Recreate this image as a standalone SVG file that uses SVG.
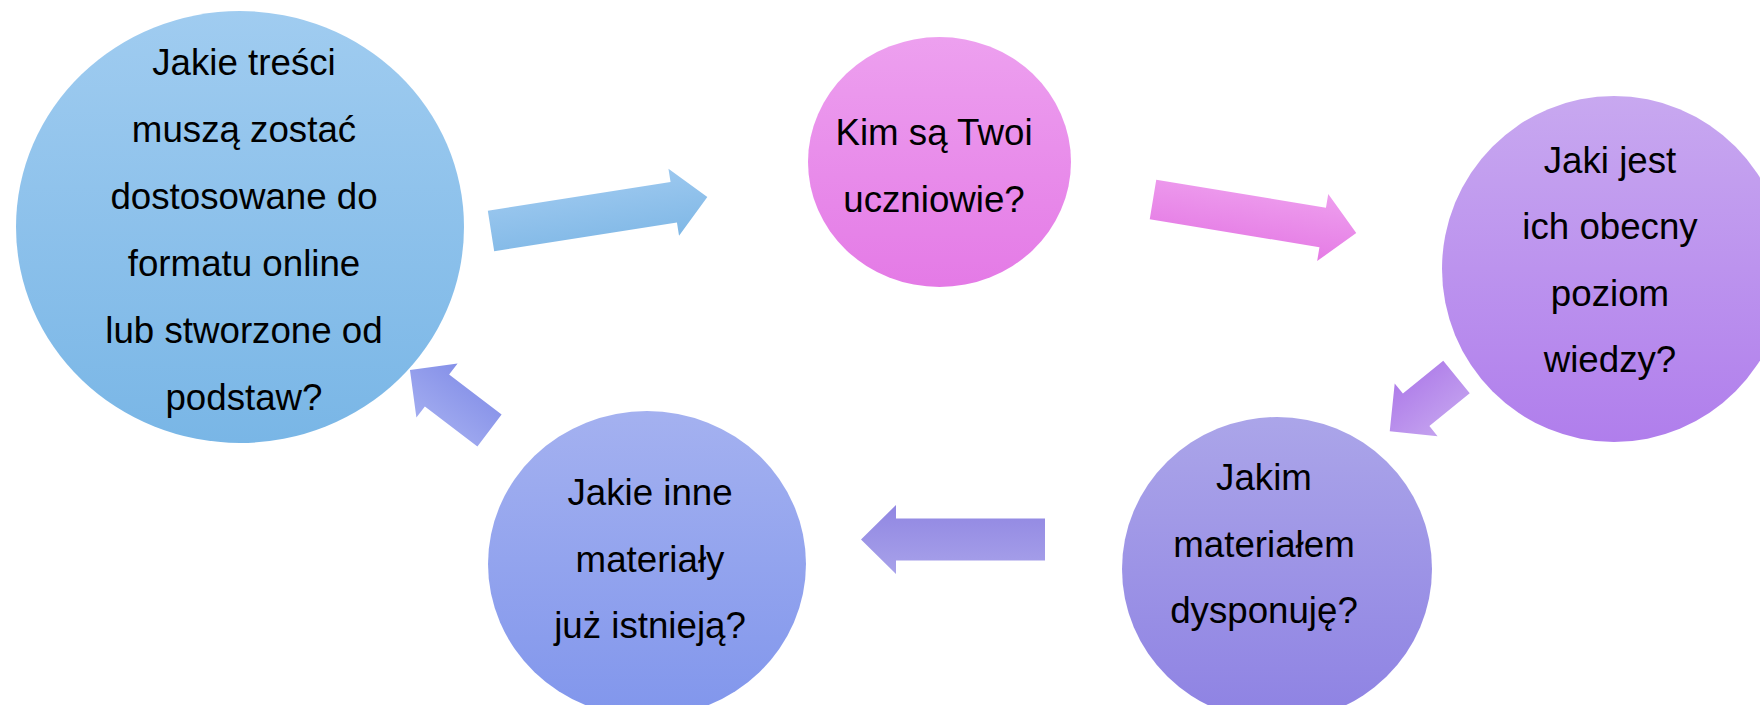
<svg xmlns="http://www.w3.org/2000/svg" width="1760" height="705" viewBox="0 0 1760 705">
<style>
text{font-family:"Liberation Sans",Arial,sans-serif;font-size:36.7px;fill:#000;text-anchor:middle}
</style>
<defs>
<linearGradient id="c1" x1="0" y1="0" x2="0" y2="1"><stop offset="0" stop-color="#a0ccf0"/><stop offset="1" stop-color="#79b6e6"/></linearGradient>
<linearGradient id="c2" x1="0" y1="0" x2="0" y2="1"><stop offset="0" stop-color="#eda0ef"/><stop offset="1" stop-color="#e47ae6"/></linearGradient>
<linearGradient id="c3" x1="0" y1="0" x2="0" y2="1"><stop offset="0" stop-color="#c8a8f0"/><stop offset="1" stop-color="#b07eec"/></linearGradient>
<linearGradient id="c4" x1="0" y1="0" x2="0" y2="1"><stop offset="0" stop-color="#aba5e9"/><stop offset="1" stop-color="#8e82e3"/></linearGradient>
<linearGradient id="c5" x1="0" y1="0" x2="0" y2="1"><stop offset="0" stop-color="#a4b1f0"/><stop offset="1" stop-color="#8196ec"/></linearGradient>
<linearGradient id="a1" x1="0" y1="0" x2="0" y2="1"><stop offset="0" stop-color="#9cc8ef"/><stop offset="1" stop-color="#80b8e6"/></linearGradient>
<linearGradient id="a2" x1="0" y1="0" x2="0" y2="1"><stop offset="0" stop-color="#ee9fee"/><stop offset="1" stop-color="#e57be5"/></linearGradient>
<linearGradient id="a3" x1="0" y1="0" x2="0" y2="1"><stop offset="0" stop-color="#c4a2ef"/><stop offset="1" stop-color="#ae7ce9"/></linearGradient>
<linearGradient id="a4" x1="0" y1="0" x2="0" y2="1"><stop offset="0" stop-color="#a8a2ea"/><stop offset="1" stop-color="#9086e2"/></linearGradient>
<linearGradient id="a5" x1="0" y1="0" x2="0" y2="1"><stop offset="0" stop-color="#a2acf0"/><stop offset="1" stop-color="#8590e8"/></linearGradient>
</defs>
<g id="node1">
<ellipse cx="240" cy="227" rx="224" ry="216" fill="url(#c1)"/>
<text x="244" y="75">Jakie treści</text>
<text x="244" y="142">muszą zostać</text>
<text x="244" y="209">dostosowane do</text>
<text x="244" y="276">formatu online</text>
<text x="244" y="343">lub stworzone od</text>
<text x="244" y="410">podstaw?</text>
</g>
<g id="node2">
<ellipse cx="939.5" cy="162" rx="131.5" ry="125" fill="url(#c2)"/>
<text x="934" y="145">Kim są Twoi</text>
<text x="934" y="212">uczniowie?</text>
</g>
<g id="node3">
<ellipse cx="1614" cy="269" rx="172" ry="173" fill="url(#c3)"/>
<text x="1610" y="173">Jaki jest</text>
<text x="1610" y="239">ich obecny</text>
<text x="1610" y="306">poziom</text>
<text x="1610" y="372">wiedzy?</text>
</g>
<g id="node4">
<ellipse cx="1277" cy="569" rx="155" ry="152" fill="url(#c4)"/>
<text x="1264" y="490">Jakim</text>
<text x="1264" y="557">materiałem</text>
<text x="1264" y="623">dysponuję?</text>
</g>
<g id="node5">
<ellipse cx="647" cy="564" rx="159" ry="153" fill="url(#c5)"/>
<text x="650" y="505">Jakie inne</text>
<text x="650" y="572">materiały</text>
<text x="650" y="638">już istnieją?</text>
</g>
<g id="connectors">
<path transform="translate(491,231) rotate(-8.95)" fill="url(#a1)" d="M0,-20.5 L185,-20.5 L185,-34 L219,0 L185,34 L185,20.5 L0,20.5 Z"/>
<path transform="translate(1153,199.5) rotate(9.37)" fill="url(#a2)" d="M0,-20 L172,-20 L172,-34 L206,0 L172,34 L172,20 L0,20 Z"/>
<path transform="translate(1456.5,377) rotate(140.9)" fill="url(#a3)" d="M0,-21 L52,-21 L52,-34 L86,0 L52,34 L52,21 L0,21 Z"/>
<path transform="translate(1045,539.5) rotate(180)" fill="url(#a4)" d="M0,-21 L149,-21 L149,-34.5 L184,0 L149,34.5 L149,21 L0,21 Z"/>
<path transform="translate(489.5,430.5) rotate(-142.7)" fill="url(#a5)" d="M0,-20 L66,-20 L66,-34 L100,0 L66,34 L66,20 L0,20 Z"/>
</g>
</svg>
